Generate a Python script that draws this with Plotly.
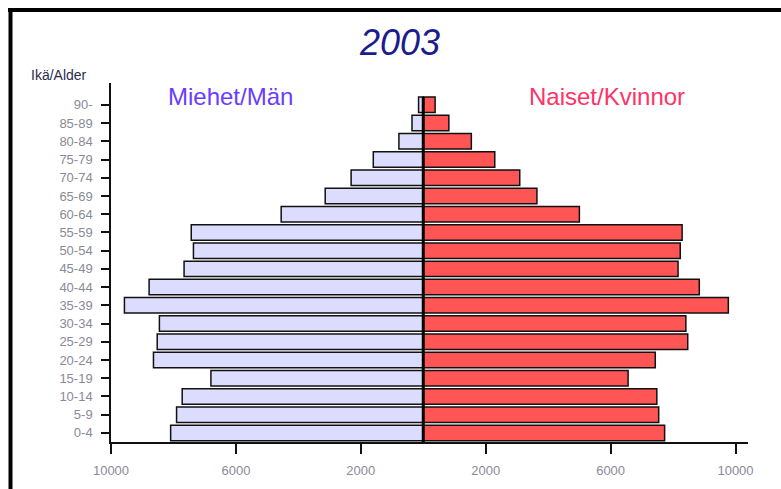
import plotly.graph_objects as go

age_groups = ["0-4", "5-9", "10-14", "15-19", "20-24", "25-29", "30-34", "35-39",
              "40-44", "45-49", "50-54", "55-59", "60-64", "65-69", "70-74",
              "75-79", "80-84", "85-89", "90-"]
men = [8090, 7900, 7720, 6800, 8640, 8520, 8450, 9570, 8780, 7660, 7360, 7430,
       4550, 3140, 2310, 1600, 780, 360, 150]
women = [7730, 7540, 7480, 6560, 7430, 8470, 8410, 9770, 8840, 8160, 8230, 8290,
         5000, 3640, 3090, 2290, 1540, 820, 380]
x_tick_vals = [-10000, -6000, -2000, 2000, 6000, 10000]
x_tick_text = ["10000", "6000", "2000", "2000", "6000", "10000"]

FONT = "Liberation Sans, Arial, sans-serif"
BAR_W = 0.85
ypos = list(range(len(age_groups)))

fig = go.Figure()
fig.add_trace(go.Bar(
    y=ypos, x=[-v for v in men], base=0, orientation="h", width=BAR_W,
    marker=dict(color="#dcdcff", line=dict(color="#111111", width=1.5)),
    name="Miehet/Män", hoverinfo="skip"))
fig.add_trace(go.Bar(
    y=ypos, x=women, base=0, orientation="h", width=BAR_W,
    marker=dict(color="#ff5555", line=dict(color="#111111", width=1.5)),
    name="Naiset/Kvinnor", hoverinfo="skip"))

W, H = 781, 489
L, R, T, B = 111, 33, 83, 47
pw, ph = W - L - R, H - T - B

def px(x):
    return (x - L) / pw

def py(y):
    return (H - B - y) / ph

fig.update_layout(
    width=W, height=H,
    margin=dict(l=L, r=R, t=T, b=B, pad=0, autoexpand=False),
    barmode="overlay",
    showlegend=False,
    paper_bgcolor="white", plot_bgcolor="white",
    title=dict(text="<i>2003</i>", x=400 / W, y=1 - 42 / H,
               xanchor="center", yanchor="middle",
               font=dict(family=FONT, size=36, color="#1c1c8c")),
    xaxis=dict(range=[-10000, 10400], tickvals=x_tick_vals, ticktext=x_tick_text,
               showgrid=False, zeroline=False, showline=True, linecolor="#111111",
               linewidth=1.5, ticks="outside", ticklen=10, tickwidth=1.5,
               tickcolor="#111111", ticklabelstandoff=6, automargin=False,
               tickfont=dict(family=FONT, size=13, color="#8a8a96")),
    yaxis=dict(range=[-0.5, 19.2], tickvals=ypos, ticktext=age_groups,
               showgrid=False, zeroline=False, showline=True, linecolor="#111111",
               linewidth=1.5, ticks="outside", ticklen=8, tickwidth=1.5,
               tickcolor="#111111", ticklabelstandoff=6, automargin=False,
               tickfont=dict(family=FONT, size=13, color="#8a8a96")),
    annotations=[
        dict(text="Miehet/Män", xref="paper", yref="paper", x=px(230), y=py(96),
             showarrow=False, xanchor="center", yanchor="middle",
             font=dict(family=FONT, size=24, color="#6a3cff")),
        dict(text="Naiset/Kvinnor", xref="paper", yref="paper", x=px(607), y=py(96),
             showarrow=False, xanchor="center", yanchor="middle",
             font=dict(family=FONT, size=24, color="#ff3366")),
        dict(text="Ikä/Alder", xref="paper", yref="paper", x=px(59), y=py(75),
             showarrow=False, xanchor="center", yanchor="middle",
             font=dict(family=FONT, size=14, color="#2a2a50")),
    ],
    shapes=[
        # centre line
        dict(type="line", xref="x", yref="y", x0=0, x1=0, y0=-0.5,
             y1=len(age_groups) - 1 + BAR_W / 2,
             line=dict(color="#000000", width=3)),
        # frame (top and left)
        dict(type="line", xref="paper", yref="paper", x0=px(8), x1=px(790),
             y0=py(10), y1=py(10), line=dict(color="#000000", width=4)),
        dict(type="line", xref="paper", yref="paper", x0=px(10.5), x1=px(10.5),
             y0=py(8), y1=py(500), line=dict(color="#000000", width=4)),
    ],
)

fig.write_html("out.html", config={"displayModeBar": False},
               post_script="document.body.style.margin='0';document.body.style.overflow='hidden';")
